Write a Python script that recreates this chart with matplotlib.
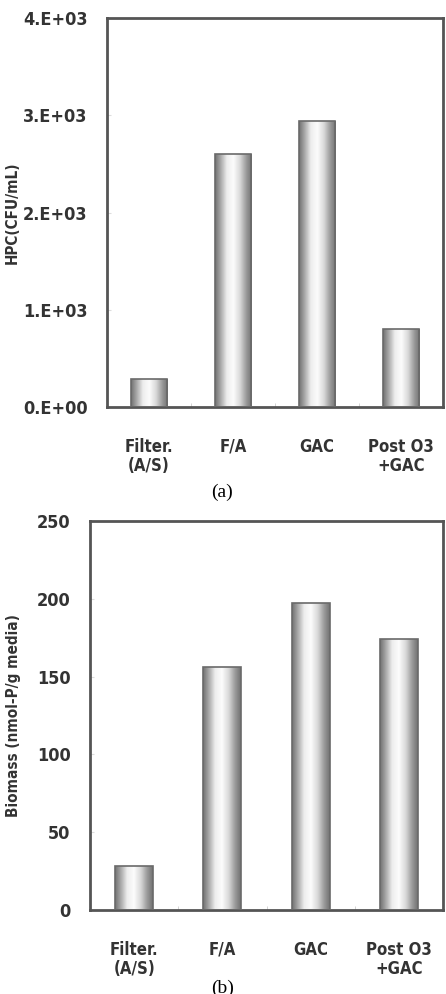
import numpy as np
import matplotlib
matplotlib.use("Agg")
import matplotlib.pyplot as plt
from matplotlib.colors import LinearSegmentedColormap
from matplotlib.ticker import FuncFormatter, FixedLocator

categories = ["Filter.\n(A/S)", "F/A", "GAC", "Post O3\n+GAC"]
hpc = [290, 2600, 2940, 800]
biomass = [28, 156, 197, 174]

hpc_ticks = [0, 1000, 2000, 3000, 4000]
biomass_ticks = [0, 50, 100, 150, 200, 250]

plt.rcParams['font.family'] = ['DejaVu Sans']

# grey cylinder shading across each bar
cyl = LinearSegmentedColormap.from_list("cyl", [
    (0.0, (0.45, 0.45, 0.45)),
    (0.12, (0.62, 0.62, 0.62)),
    (0.32, (0.93, 0.93, 0.93)),
    (0.5, (0.99, 0.99, 0.99)),
    (0.68, (0.85, 0.85, 0.85)),
    (0.86, (0.6, 0.6, 0.6)),
    (1.0, (0.45, 0.45, 0.45)),
])


def sci(v, pos):
    if v == 0:
        return "0.E+00"
    e = int(np.floor(np.log10(v)))
    return f"{v / 10**e:.0f}.E+{e:02d}"


def draw_panel(ax, values, ticks, ylabel, fmt=None):
    x = np.arange(len(categories))
    bars = ax.bar(x, values, width=0.43, color="none", edgecolor="#6a6a6a",
                  linewidth=1.2, zorder=3)
    grad = np.linspace(0, 1, 64).reshape(1, -1)
    for b in bars:
        im = ax.imshow(grad, cmap=cyl, aspect="auto", zorder=2,
                       extent=[b.get_x(), b.get_x() + b.get_width(), 0, b.get_height()])
        im.set_clip_path(b)
    ax.set_xlim(-0.5, len(categories) - 0.5)
    ax.set_ylim(ticks[0], ticks[-1])
    ax.set_xticks(x)
    ax.set_xticklabels(categories, fontsize=12, fontweight="bold", color="#333333",
                       fontstretch="condensed", linespacing=1.1, va="top")
    ax.tick_params(axis="x", length=0, pad=22)
    ax.xaxis.set_minor_locator(FixedLocator(x[:-1] + 0.5))
    ax.tick_params(axis="x", which="minor", direction="in", length=3, color="#cccccc")
    ax.set_yticks(ticks)
    if fmt:
        ax.yaxis.set_major_formatter(FuncFormatter(fmt))
    ax.tick_params(axis="y", direction="in", length=3, color="#dddddd", pad=14,
                   labelsize=13)
    for t in ax.get_yticklabels():
        t.set_fontweight("bold")
        t.set_fontstretch("condensed")
        t.set_color("#333333")
    ax.set_ylabel(ylabel, fontsize=11, fontweight="bold", color="#333333",
                  fontstretch="condensed")
    for s in ax.spines.values():
        s.set_color("#555555")
        s.set_linewidth(2)


fig = plt.figure(figsize=(4.46, 9.94), dpi=100)
ax1 = fig.add_axes([0.240, 0.5905, 0.753, 0.3914])
ax2 = fig.add_axes([0.2018, 0.0845, 0.7915, 0.3914])

draw_panel(ax1, hpc, hpc_ticks, "HPC(CFU/mL)", sci)
draw_panel(ax2, biomass, biomass_ticks, "Biomass (nmol-P/g media)")
ax1.yaxis.set_label_coords(-0.26, 0.5)
ax2.yaxis.set_label_coords(-0.195, 0.5)

fig.text(0.498, 1 - 492 / 994, "(a)", family="Liberation Serif", fontsize=14,
         ha="center", va="center")
fig.text(0.498, 1 - 988 / 994, "(b)", family="Liberation Serif", fontsize=14,
         ha="center", va="center")

fig.savefig("out.png", dpi=100)
